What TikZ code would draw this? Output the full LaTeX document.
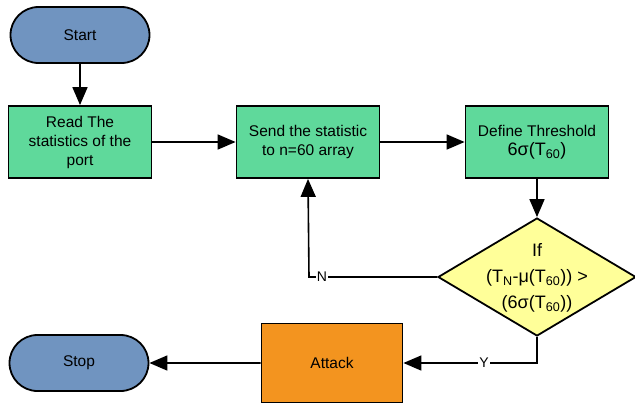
\documentclass[tikz,border=0pt]{standalone}
\usepackage{fontspec}
\setmainfont{Liberation Sans}
\usetikzlibrary{arrows.meta,shapes.geometric,shapes.misc}
\definecolor{cblue}{HTML}{7094C0}
\definecolor{cgreen}{HTML}{5FD99B}
\definecolor{cyellow}{HTML}{FFFF99}
\definecolor{corange}{HTML}{F3941F}
\tikzset{
  base/.style={draw=black,line width=1.8pt,align=center,inner sep=2pt,font=\fontsize{15.5}{19}\selectfont},
  term/.style={base,rounded rectangle,fill=cblue,minimum width=143pt,minimum height=56pt},
  proc/.style={base,rectangle,fill=cgreen,minimum width=143pt,minimum height=72pt},
  act/.style={base,rectangle,fill=corange,minimum width=141pt,minimum height=79pt},
  dec/.style={base,diamond,fill=cyellow,minimum width=198pt,minimum height=118pt,inner sep=0pt},
  dectext/.style={align=center,inner sep=0pt,font=\fontsize{18}{26}\selectfont},
  conn/.style={line width=1.6pt,-{Triangle[length=18pt,width=15pt]}},
  lab/.style={fill=white,inner sep=1pt,font=\fontsize{14}{16}\selectfont}
}
\begin{document}
\begin{tikzpicture}[x=1pt,y=-1pt]
\useasboundingbox (0,0) rectangle (635,405);
\node[term] (start) at (80,35) {Start};
\node[proc] (read) at (80,142) {Read The\\statistics of the\\port};
\node[proc] (send) at (308,142) {Send the statistic\\to n=60 array};
\node[proc] (def) at (537,142) {Define Threshold\\{\fontsize{18}{22}\selectfont 6σ(T\textsubscript{60})}};
\node[dec] (if) at (537,277) {};
\node[dectext] (iftext) at (537,278) {If\\(T\textsubscript{N}-μ(T\textsubscript{60})) >\\(6σ(T\textsubscript{60}))};
\node[act] (attack) at (332,363) {Attack};
\node[term] (stop) at (79,363) {Stop};
\coordinate (nc) at (309,277);
\coordinate (yc) at (537,363);
\draw[conn] (start) -- (read);
\draw[conn] (read) -- (send);
\draw[conn] (send) -- (def);
\draw[conn] (def) -- (if);
\draw[conn] (if.west) -- (nc) -- (send.south);
\draw[conn] (if.south) -- (yc) -- (attack.east);
\draw[conn] (attack) -- (stop);
\node[lab] (nl) at (322,277) {N};
\node[lab] (yl) at (484,363) {Y};
\end{tikzpicture}
\end{document}
